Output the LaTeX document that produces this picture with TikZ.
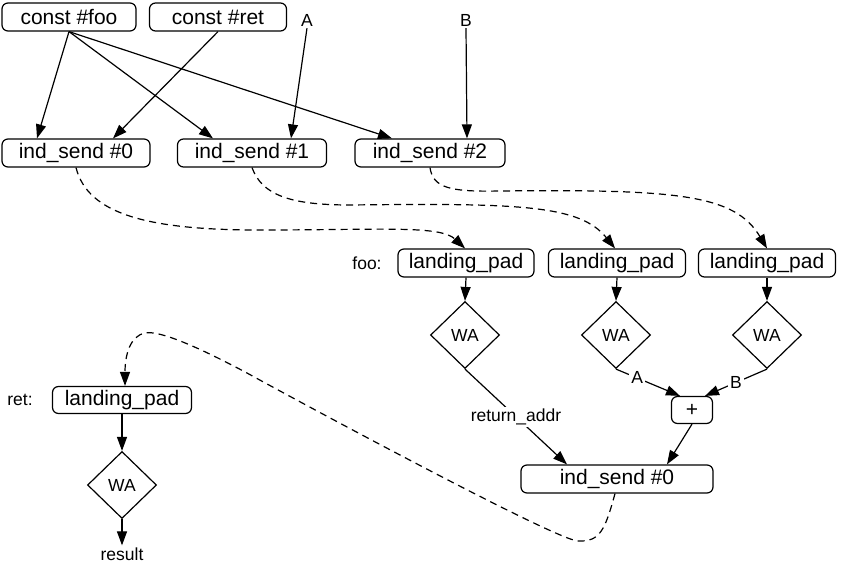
\documentclass[tikz,border=0pt]{standalone}
\usepackage{fontspec}
\setmainfont{Liberation Sans}
\usetikzlibrary{arrows.meta,shapes.geometric}
\tikzset{
  box/.style={draw, rounded corners=6pt, line width=1.2pt, font=\fontsize{21}{25}\selectfont, minimum height=28pt, inner sep=0pt},
  wa/.style={draw, diamond, line width=1.2pt, minimum width=69pt, minimum height=67pt, inner sep=0pt, font=\fontsize{17.5}{20}\selectfont},
  lbl/.style={font=\fontsize{17.5}{20}\selectfont, inner sep=2pt},
  elbl/.style={lbl, fill=white},
  arr/.style={-{Triangle[length=14pt,width=10pt]}, line width=1.2pt},
  darr/.style={arr, dash pattern=on 7pt off 5pt},
}
\begin{document}
\begin{tikzpicture}[x=1pt,y=-1pt]
\useasboundingbox (0,0) rectangle (841,565);
% top row
\node[box, minimum width=134pt] (cfoo) at (69,17) {const \#foo};
\node[box, minimum width=137pt] (cret) at (218,17) {const \#ret};
\node[lbl] (la) at (307,20) {A};
\node[lbl] (lb) at (466,20) {B};
% ind_send row
\node[box, minimum width=148pt] (is0) at (76,153) {ind\_send \#0};
\node[box, minimum width=149pt] (is1) at (252,153) {ind\_send \#1};
\node[box, minimum width=150pt] (is2) at (430,153) {ind\_send \#2};
% landing pads
\node[lbl] (foo) at (367,263) {foo:};
\node[box, minimum width=136pt] (lp1) at (466,263) {landing\_pad};
\node[box, minimum width=137pt] (lp2) at (617,263) {landing\_pad};
\node[box, minimum width=137pt] (lp3) at (767,263) {landing\_pad};
\node[wa] (wa1) at (465,335) {WA};
\node[wa] (wa2) at (616,335) {WA};
\node[wa] (wa3) at (767,335) {WA};
\node[box, minimum width=41pt, minimum height=27pt] (plus) at (692,410) {+};
\node[box, minimum width=192pt] (isb) at (617,479) {ind\_send \#0};
% ret side
\node[lbl] (ret) at (20,400) {ret:};
\node[box, minimum width=139pt, minimum height=27pt] (lpr) at (122,400) {landing\_pad};
\node[wa] (war) at (122,485) {WA};
\node[lbl] (res) at (122,554) {result};
% solid edges
\draw[arr] (cfoo.south) -- ([xshift=-39pt]is0.north);
\draw[arr] (cfoo.south) -- ([xshift=-39pt]is1.north);
\draw[arr] (cfoo.south) -- ([xshift=-38pt]is2.north);
\draw[arr] (cret.south) -- ([xshift=37pt]is0.north);
\draw[arr] (la.south) -- ([xshift=39pt]is1.north);
\draw[arr] (lb.south) -- ([xshift=1pt]lb.south |- is2.north);
\draw[arr] (lp1.south) -- (wa1.north);
\draw[arr] (lp2.south) -- (wa2.north);
\draw[arr] (lp3.south) -- (wa3.north);
\draw[arr] (wa1.south) -- node[elbl, pos=0.5] {return\_addr} ([xshift=-50pt]isb.north);
\draw[arr] (wa2.south) -- node[elbl, pos=0.33] {A} ([xshift=-12pt]plus.north);
\draw[arr] (wa3.south) -- node[elbl, pos=0.5] {B} ([xshift=13pt]plus.north);
\draw[arr] (plus.south) -- ([xshift=50pt]isb.north);
\draw[arr] (lpr.south) -- (war.north);
\draw[arr] (war.south) -- (res.north);
% dashed edges
\draw[darr] (is0.south) .. controls (88,215) and (150,230) .. (260,230)
  .. controls (380,230) and (440,225) .. ([xshift=-1pt]lp1.north);
\draw[darr] (is1.south) .. controls (262,195) and (290,205) .. (350,205)
  .. controls (520,203) and (580,205) .. ([xshift=-2pt]lp2.north);
\draw[darr] (is2.south) .. controls (433,188) and (450,192) .. (500,191)
  .. controls (680,189) and (735,195) .. (lp3.north);
\draw[darr] ([xshift=-2pt]isb.south) .. controls (605,530) and (600,542) .. (578,541)
  .. controls (556,540) and (307,406) .. (247,373)
  .. controls (200,348) and (160,330) .. (145,333)
  .. controls (130,336) and (125,355) .. ([xshift=3pt]lpr.north);
\end{tikzpicture}
\end{document}
